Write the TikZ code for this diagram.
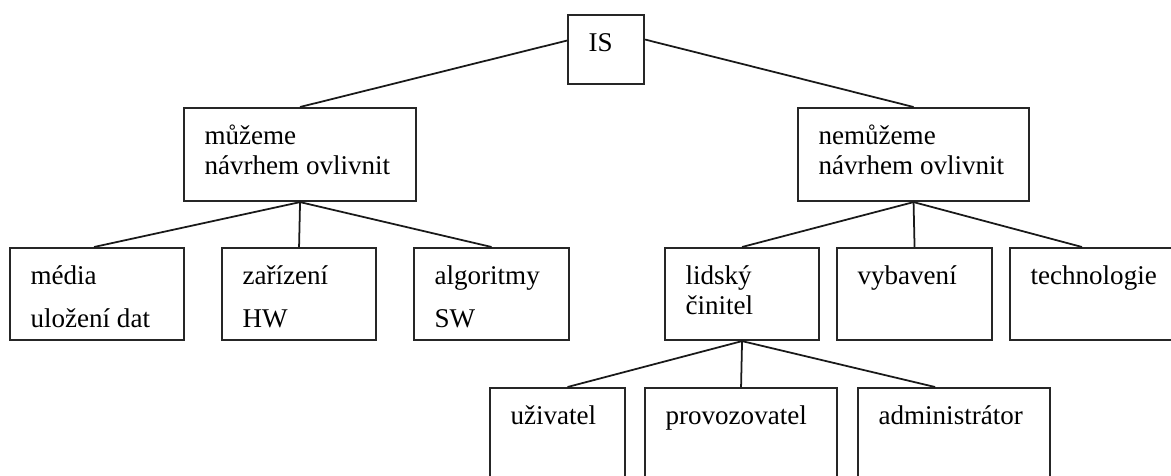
\documentclass[tikz,border=0pt]{standalone}
\usepackage{fontspec}
\setmainfont{Liberation Serif}
\usetikzlibrary{positioning}

% text in the top left corner of a box of fixed size
\newcommand{\celltext}[3]{\parbox[c][#2][t]{#1}{\raggedright\leftskip=0.41cm\rule{0pt}{0.72cm}#3}}

\begin{document}
\begin{tikzpicture}[box/.style={draw=black!85, rectangle, line width=1.2pt, inner sep=0pt, anchor=north west, font=\fontsize{15.4}{17.6}\selectfont},
    link/.style={draw=black!90, line width=1pt}]
        \clip (0,0) rectangle (23.42,-9.5);
        \node[box] (IS) at (11.34,-0.28) {\celltext{1.52cm}{1.38cm}{IS}};
        \node[box] (mu) at (3.66,-2.14) {\celltext{4.64cm}{1.86cm}{můžeme\\návrhem ovlivnit}};
        \node[box] (nemu) at (15.94,-2.14) {\celltext{4.62cm}{1.86cm}{nemůžeme\\návrhem ovlivnit}};
        \node[box] (media) at (0.18,-4.94) {\celltext{3.48cm}{1.84cm}{média\\[0.26cm]uložení dat}};
        \node[box] (zariz) at (4.42,-4.94) {\celltext{3.08cm}{1.84cm}{zařízení\\[0.26cm]HW}};
        \node[box] (algor) at (8.26,-4.94) {\celltext{3.10cm}{1.84cm}{algoritmy\\[0.26cm]SW}};
        \node[box] (lidsky) at (13.28,-4.94) {\celltext{3.08cm}{1.84cm}{lidský\\činitel}};
        \node[box] (vybav) at (16.72,-4.94) {\celltext{3.10cm}{1.84cm}{vybavení}};
        \node[box] (techno) at (20.18,-4.94) {\celltext{3.42cm}{1.84cm}{technologie}};
        \node[box] (uziv) at (9.78,-7.74) {\celltext{2.70cm}{2.2cm}{uživatel}};
        \node[box] (provoz) at (12.88,-7.74) {\celltext{3.84cm}{2.2cm}{provozovatel}};
        \node[box] (admin) at (17.14,-7.74) {\celltext{3.84cm}{2.2cm}{administrátor}};
        \coordinate (technotop) at ([xshift=1.46cm]techno.north west);
        \draw[link] ([yshift=0.18cm]IS.west) -- (mu.north);
        \draw[link] ([yshift=0.2cm]IS.east) -- (nemu.north);
        \draw[link] (mu.south) -- ([xshift=-0.06cm]media.north);
        \draw[link] (mu.south) -- (zariz.north);
        \draw[link] (mu.south) -- (algor.north);
        \draw[link] (nemu.south) -- (lidsky.north);
        \draw[link] (nemu.south) -- (vybav.north);
        \draw[link] (nemu.south) -- (technotop);
        \draw[link] (lidsky.south) -- ([xshift=0.2cm]uziv.north);
        \draw[link] (lidsky.south) -- (provoz.north);
        \draw[link] (lidsky.south) -- ([xshift=-0.38cm]admin.north);
    \end{tikzpicture}
\end{document}
